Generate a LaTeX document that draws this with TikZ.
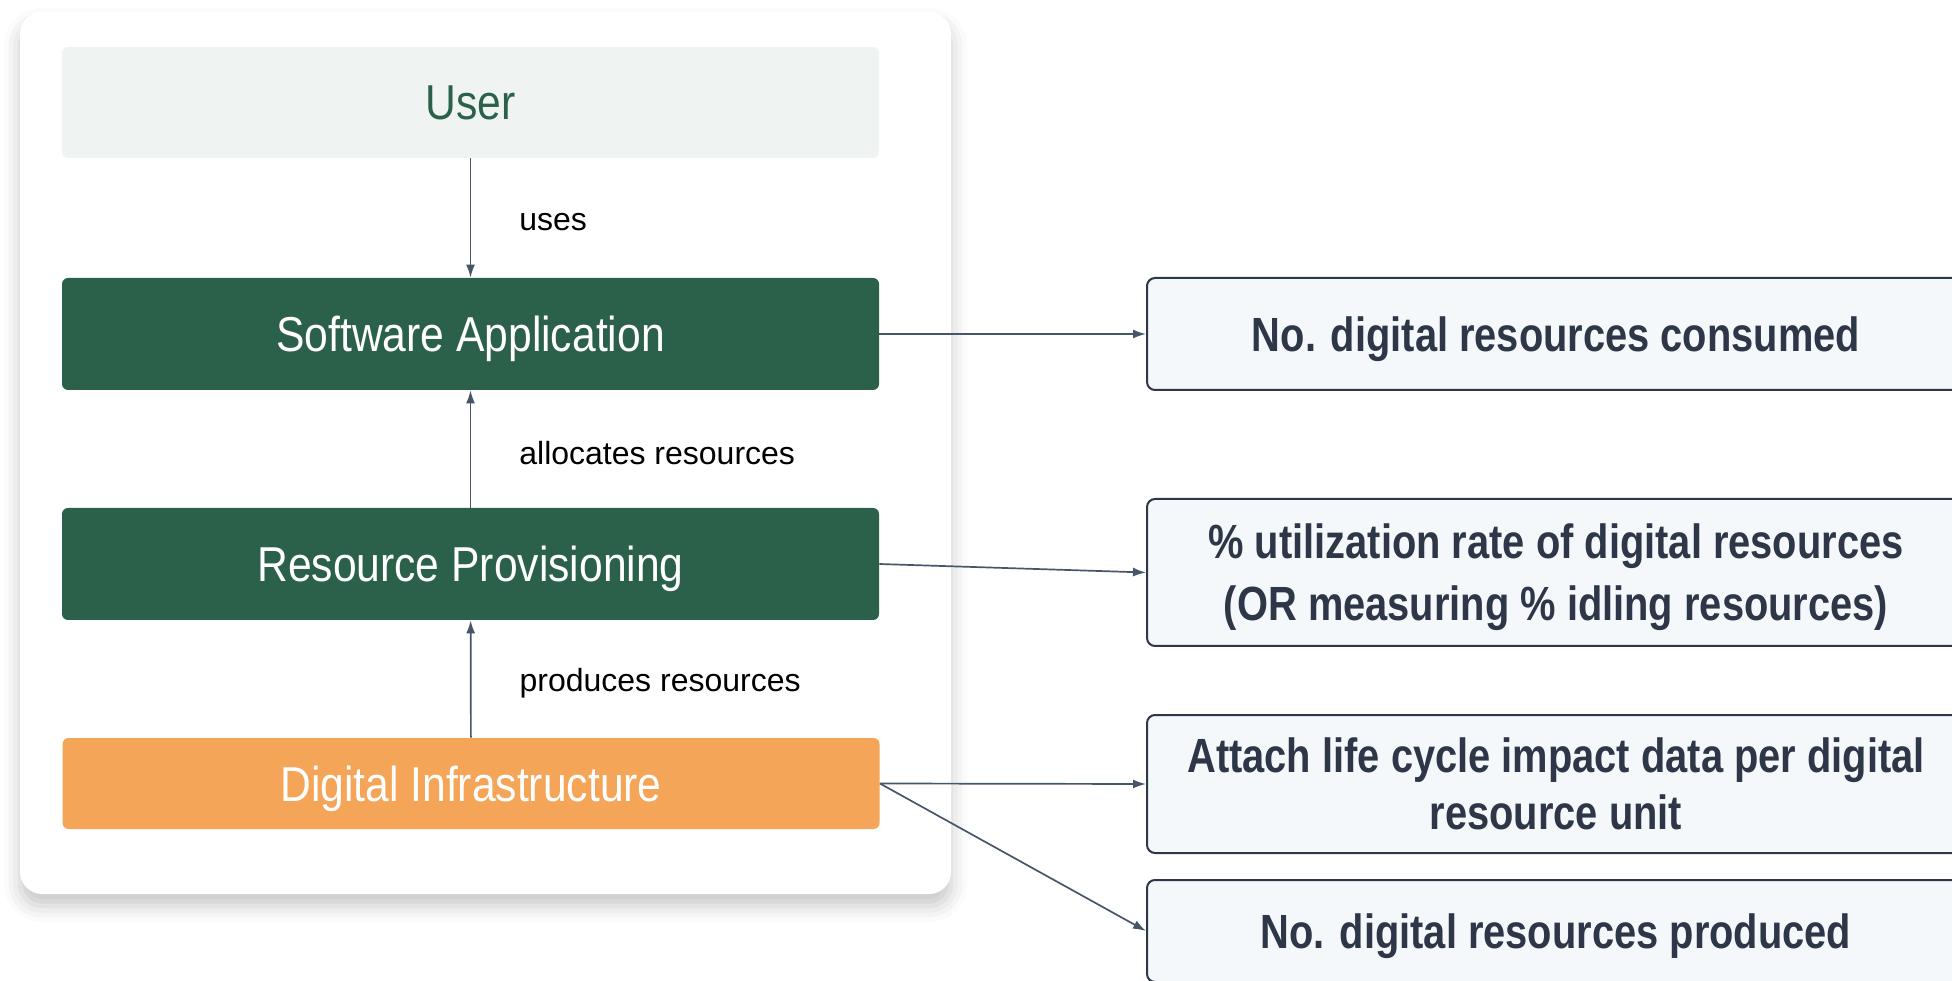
\documentclass[tikz,border=0pt]{standalone}
\usepackage{fontspec}
\setmainfont{Liberation Sans}
\newfontfamily\boxfont[FakeStretch=0.87]{Liberation Sans}
\newfontfamily\metricfont[FakeStretch=0.83]{Liberation Sans}
\usetikzlibrary{arrows.meta,shadows.blur}
\definecolor{layergreen}{HTML}{2B614A}
\definecolor{userfill}{HTML}{EFF3F1}
\definecolor{infraorange}{HTML}{F5A558}
\definecolor{metricfill}{HTML}{F5F8FB}
\definecolor{metricink}{HTML}{2D3748}
\definecolor{linkgray}{HTML}{475569}
\begin{document}
\begin{tikzpicture}[x=0.5pt,y=0.5pt,
  layer/.style={rounded corners=3pt, minimum width=408.5pt, minimum height=56pt, inner sep=0pt,
    text height=17.5pt, text depth=0pt, font=\boxfont\fontsize{24.5}{29}\selectfont},
  metric/.style={draw=metricink, line width=1pt, fill=metricfill, rounded corners=4pt,
    minimum width=409pt, inner sep=0pt, align=center, text=metricink,
    font=\metricfont\bfseries\fontsize{24}{28.5}\selectfont},
  oneline/.style={text height=17.2pt, text depth=0pt},
  link/.style={draw=linkgray, line width=0.85pt, -{Latex[length=6.5pt,width=4.5pt]}},
  linklabel/.style={midway, right=24pt, yshift=-2pt, inner sep=0pt, font=\fontsize{16}{19}\selectfont}]

\useasboundingbox (0,0) rectangle (1952,980);
\fill[white, rounded corners=11pt,
  blur shadow={shadow xshift=0pt, shadow yshift=-6pt, shadow blur radius=8pt, shadow opacity=22}]
  (20,86) rectangle (951,968);

\node[layer, fill=userfill, text=layergreen, minimum height=55.5pt] (user) at (470.5,877.5) {User};
\node[layer, fill=layergreen, text=white] (soft) at (470.5,646) {Software Application};
\node[layer, fill=layergreen, text=white] (prov) at (470.5,416) {Resource Provisioning};
\node[layer, fill=infraorange, text=white, minimum height=45.5pt] (infra) at (471,196.5) {Digital Infrastructure};

\node[metric, oneline, minimum height=56pt] (consumed) at (1556,646) {No. digital resources consumed};
\node[metric, text depth=0pt, minimum height=73.5pt, font=\metricfont\bfseries\fontsize{24}{31}\selectfont]
  (utilization) at (1556,407.5) {\% utilization rate of digital resources\\(OR measuring \% idling resources)};
\node[metric, text depth=0pt, minimum height=69pt] (lifecycle) at (1556,196) {Attach life cycle impact data per digital\\resource unit};
\node[metric, oneline, minimum height=51pt] (produced) at (1556,49) {No. digital resources produced};

\draw[link] (user) -- node[linklabel] {uses} (soft);
\draw[link] (prov) -- node[linklabel] {allocates resources} (soft);
\draw[link] (infra) -- node[linklabel] {produces resources} (prov);
\draw[link] (soft) -- (consumed);
\draw[link] (prov.east) -- (utilization.west);
\draw[link] (infra.east) -- (lifecycle.west);
\draw[link] (infra.east) -- (produced.west);
\end{tikzpicture}
\end{document}
